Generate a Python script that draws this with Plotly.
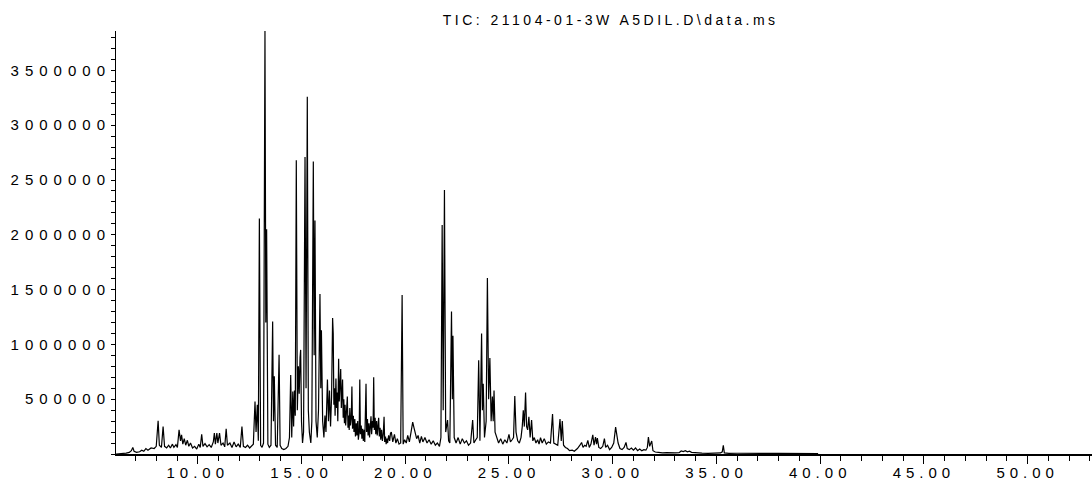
import plotly.graph_objects as go

# Retention time (min) and TIC abundance
retention_time = [
    6.06, 6.30, 6.55, 6.70, 6.80, 6.87, 6.93, 7.05, 7.20, 7.30, 7.40, 7.50, 7.60, 7.75, 7.90,
    8.00, 8.09, 8.15, 8.25, 8.33, 8.40, 8.50, 8.60, 8.68, 8.78, 8.85, 8.95, 9.02, 9.10, 9.17,
    9.22, 9.28, 9.35, 9.42, 9.50, 9.57, 9.65, 9.75, 9.85, 9.95, 10.05, 10.12, 10.19, 10.25, 10.35,
    10.45, 10.55, 10.65, 10.75, 10.80, 10.85, 10.92, 10.97, 11.05, 11.12, 11.22, 11.30, 11.37, 11.43, 11.55,
    11.65, 11.75, 11.85, 11.95, 12.05, 12.13, 12.20, 12.30, 12.40, 12.50, 12.60, 12.68, 12.76, 12.81, 12.87,
    12.92, 12.97, 13.03, 13.10, 13.17, 13.24, 13.28, 13.32, 13.38, 13.45, 13.53, 13.61, 13.65, 13.69, 13.75,
    13.83, 13.92, 13.97, 14.05, 14.15, 14.25, 14.35, 14.42, 14.48, 14.53, 14.58, 14.62, 14.66, 14.70, 14.75,
    14.80, 14.85, 14.89, 14.93, 14.96, 15.00, 15.05, 15.10, 15.17, 15.22, 15.28, 15.33, 15.38, 15.45, 15.50,
    15.57, 15.61, 15.65, 15.70, 15.76, 15.82, 15.89, 15.93, 15.96, 16.02, 16.08, 16.13, 16.18, 16.25, 16.30,
    16.35, 16.40, 16.45, 16.50, 16.53, 16.56, 16.59, 16.62, 16.66, 16.69, 16.72, 16.75, 16.79, 16.82, 16.86,
    16.89, 16.92, 16.95, 16.98, 17.01, 17.04, 17.07, 17.10, 17.13, 17.17, 17.21, 17.24, 17.27, 17.30, 17.33,
    17.36, 17.40, 17.43, 17.46, 17.50, 17.53, 17.57, 17.60, 17.64, 17.67, 17.71, 17.74, 17.78, 17.81, 17.84,
    17.88, 17.91, 17.95, 17.98, 18.02, 18.05, 18.08, 18.11, 18.14, 18.18, 18.21, 18.25, 18.28, 18.31, 18.35,
    18.38, 18.42, 18.45, 18.48, 18.51, 18.55, 18.58, 18.62, 18.65, 18.69, 18.72, 18.75, 18.79, 18.82, 18.86,
    18.90, 18.94, 18.98, 19.01, 19.05, 19.08, 19.12, 19.15, 19.20, 19.25, 19.29, 19.33, 19.40, 19.48, 19.55,
    19.62, 19.70, 19.78, 19.85, 19.90, 19.97, 20.05, 20.12, 20.20, 20.28, 20.36, 20.42, 20.48, 20.55, 20.62,
    20.70, 20.78, 20.85, 20.95, 21.05, 21.15, 21.25, 21.35, 21.45, 21.55, 21.65, 21.72, 21.78, 21.83, 21.89,
    21.95, 22.04, 22.09, 22.15, 22.23, 22.27, 22.30, 22.36, 22.45, 22.55, 22.65, 22.75, 22.85, 22.95, 23.05,
    23.15, 23.25, 23.31, 23.40, 23.47, 23.54, 23.60, 23.68, 23.72, 23.76, 23.82, 23.90, 23.96, 24.02, 24.08,
    24.14, 24.20, 24.24, 24.28, 24.33, 24.40, 24.50, 24.60, 24.70, 24.80, 24.90, 25.00, 25.07, 25.15, 25.22,
    25.28, 25.34, 25.42, 25.50, 25.58, 25.64, 25.69, 25.74, 25.80, 25.85, 25.90, 25.96, 26.02, 26.09, 26.15,
    26.22, 26.30, 26.38, 26.45, 26.52, 26.60, 26.70, 26.80, 26.90, 27.00, 27.10, 27.16, 27.25, 27.35, 27.46,
    27.52, 27.57, 27.63, 27.72, 27.82, 27.92, 28.05, 28.15, 28.30, 28.42, 28.50, 28.57, 28.65, 28.72, 28.80,
    28.87, 28.95, 29.04, 29.10, 29.17, 29.22, 29.26, 29.33, 29.42, 29.52, 29.60, 29.66, 29.75, 29.85, 29.95,
    30.05, 30.14, 30.20, 30.26, 30.35, 30.45, 30.55, 30.64, 30.70, 30.80, 30.90, 31.00, 31.10, 31.20, 31.30,
    31.40, 31.50, 31.60, 31.67, 31.72, 31.78, 31.88, 31.94, 32.05, 32.20, 32.40, 32.60, 32.80, 33.00, 33.20,
    33.30, 33.40, 33.50, 33.60, 33.70, 33.80, 34.00, 34.30, 34.60, 34.90, 35.10, 35.20, 35.28, 35.33, 35.38,
    35.60, 36.00, 36.50, 37.00, 37.50, 38.00, 38.50, 39.00, 39.50, 39.90,
]

abundance = [
    0, 3000, 8000, 15000, 30000, 60000, 25000, 15000, 20000, 35000, 25000, 50000, 35000, 55000, 50000,
    70000, 303000, 80000, 60000, 250000, 70000, 55000, 80000, 55000, 90000, 60000, 85000, 60000, 220000, 120000,
    175000, 90000, 140000, 80000, 125000, 70000, 100000, 55000, 70000, 45000, 90000, 60000, 180000, 70000, 95000,
    65000, 85000, 60000, 110000, 190000, 90000, 190000, 100000, 190000, 80000, 100000, 65000, 230000, 80000, 100000,
    60000, 110000, 65000, 90000, 60000, 250000, 70000, 60000, 80000, 55000, 75000, 90000, 480000, 200000, 450000,
    120000, 2150000, 80000, 60000, 100000, 3860000, 1200000, 2050000, 90000, 60000, 80000, 1210000, 300000, 710000, 80000,
    60000, 905000, 80000, 50000, 40000, 50000, 70000, 150000, 720000, 150000, 570000, 250000, 580000, 350000, 2680000,
    400000, 800000, 550000, 880000, 950000, 300000, 100000, 200000, 2710000, 600000, 3260000, 400000, 200000, 100000, 300000,
    2670000, 900000, 2130000, 300000, 150000, 400000, 1460000, 600000, 1130000, 300000, 150000, 350000, 200000, 680000, 300000,
    580000, 250000, 520000, 1240000, 1100000, 450000, 600000, 350000, 690000, 420000, 560000, 300000, 870000, 480000, 650000,
    775000, 420000, 560000, 680000, 330000, 500000, 280000, 450000, 260000, 380000, 525000, 240000, 350000, 220000, 420000,
    260000, 330000, 615000, 230000, 350000, 200000, 320000, 160000, 280000, 170000, 300000, 130000, 200000, 680000, 180000,
    260000, 140000, 230000, 120000, 220000, 110000, 300000, 640000, 200000, 320000, 170000, 280000, 150000, 250000, 345000,
    180000, 300000, 240000, 700000, 220000, 330000, 180000, 300000, 170000, 260000, 330000, 160000, 240000, 130000, 220000,
    120000, 180000, 340000, 110000, 160000, 90000, 140000, 100000, 170000, 120000, 190000, 200000, 110000, 180000, 100000,
    140000, 90000, 100000, 1450000, 90000, 130000, 100000, 170000, 110000, 200000, 290000, 240000, 200000, 140000, 170000,
    100000, 160000, 110000, 150000, 100000, 130000, 90000, 120000, 80000, 100000, 70000, 150000, 2090000, 400000, 2410000,
    200000, 310000, 120000, 100000, 1300000, 500000, 1080000, 150000, 100000, 150000, 90000, 140000, 100000, 120000, 80000,
    100000, 310000, 100000, 130000, 150000, 855000, 120000, 1100000, 400000, 640000, 150000, 300000, 1605000, 500000, 875000,
    300000, 525000, 300000, 580000, 200000, 150000, 100000, 140000, 90000, 130000, 100000, 180000, 110000, 130000, 150000,
    530000, 200000, 120000, 100000, 150000, 250000, 400000, 250000, 560000, 250000, 220000, 340000, 150000, 310000, 120000,
    150000, 100000, 130000, 90000, 150000, 100000, 140000, 90000, 110000, 100000, 365000, 100000, 90000, 80000, 320000,
    120000, 300000, 80000, 60000, 50000, 30000, 35000, 25000, 50000, 80000, 105000, 60000, 80000, 70000, 125000,
    60000, 90000, 175000, 80000, 155000, 90000, 145000, 60000, 50000, 70000, 140000, 60000, 80000, 40000, 60000,
    100000, 245000, 170000, 100000, 50000, 40000, 60000, 105000, 50000, 40000, 55000, 35000, 55000, 30000, 45000,
    30000, 40000, 35000, 60000, 155000, 70000, 118000, 30000, 18000, 15000, 10000, 12000, 8000, 10000, 12000,
    28000, 22000, 30000, 20000, 25000, 15000, 10000, 8000, 6000, 8000, 6000, 10000, 20000, 80000, 10000,
    6000, 7000, 5000, 6000, 5000, 7000, 6000, 5000, 4000, 3000,
]
assert len(retention_time) == len(abundance)

x_tick_values = [10, 15, 20, 25, 30, 35, 40, 45, 50]
y_tick_values = [500000, 1000000, 1500000, 2000000, 2500000, 3000000, 3500000]
y_tick_labels = ["500000", "1000000", "1500000", "2000000", "2500000", "3000000", "3500000"]
chart_title = "TIC: 21104-01-3W A5DIL.D\\data.ms"

FONT = "Liberation Sans, Arial, Helvetica, sans-serif"

fig = go.Figure()
fig.add_trace(go.Scatter(
    x=retention_time, y=abundance, mode="lines",
    line=dict(color="#000000", width=1.2), hoverinfo="skip", showlegend=False,
))

fig.update_layout(
    template="none",
    width=1092, height=479,
    margin=dict(l=116, r=0, t=31, b=25, autoexpand=False),
    paper_bgcolor="white", plot_bgcolor="white",
    font=dict(family=FONT, size=15, color="#000000"),
    title=dict(text=chart_title, x=0.5592, xref="container", xanchor="center",
               y=0.9572, yref="container", yanchor="middle",
               font=dict(family=FONT, size=14, color="#000000")),
    xaxis=dict(
        range=[6.06, 53.10], tickvals=x_tick_values, tickformat=".2f", automargin=False,
        ticklabelstandoff=-4,
        showgrid=False, zeroline=False, showline=True, linecolor="#000000", linewidth=2,
        ticks="outside", ticklen=8, tickwidth=1, tickcolor="#000000",
        minor=dict(dtick=1, tick0=0, ticks="outside", ticklen=5, tickwidth=1, tickcolor="#000000", showgrid=False),
        tickfont=dict(family=FONT, size=15, color="#000000"),
    ),
    yaxis=dict(
        range=[0, 3860000], tickvals=y_tick_values, ticktext=y_tick_labels, automargin=False,
        ticklabelstandoff=-3,
        showgrid=False, zeroline=False, showline=True, linecolor="#000000", linewidth=1,
        ticks="outside", ticklen=4, tickwidth=1, tickcolor="#000000",
        minor=dict(dtick=100000, tick0=0, ticks="outside", ticklen=4, tickwidth=1, tickcolor="#000000", showgrid=False),
        tickfont=dict(family=FONT, size=15, color="#000000"),
    ),
)

css = ("var s=document.createElement('style');"
       "s.textContent='html,body{margin:0;padding:0;overflow:hidden}"
       ".xtick text{letter-spacing:5px}.ytick text{letter-spacing:6px}.gtitle{letter-spacing:3.5px}';"
       "document.head.appendChild(s);")

fig.write_html("out.html", config={"displayModeBar": False}, post_script=css)
